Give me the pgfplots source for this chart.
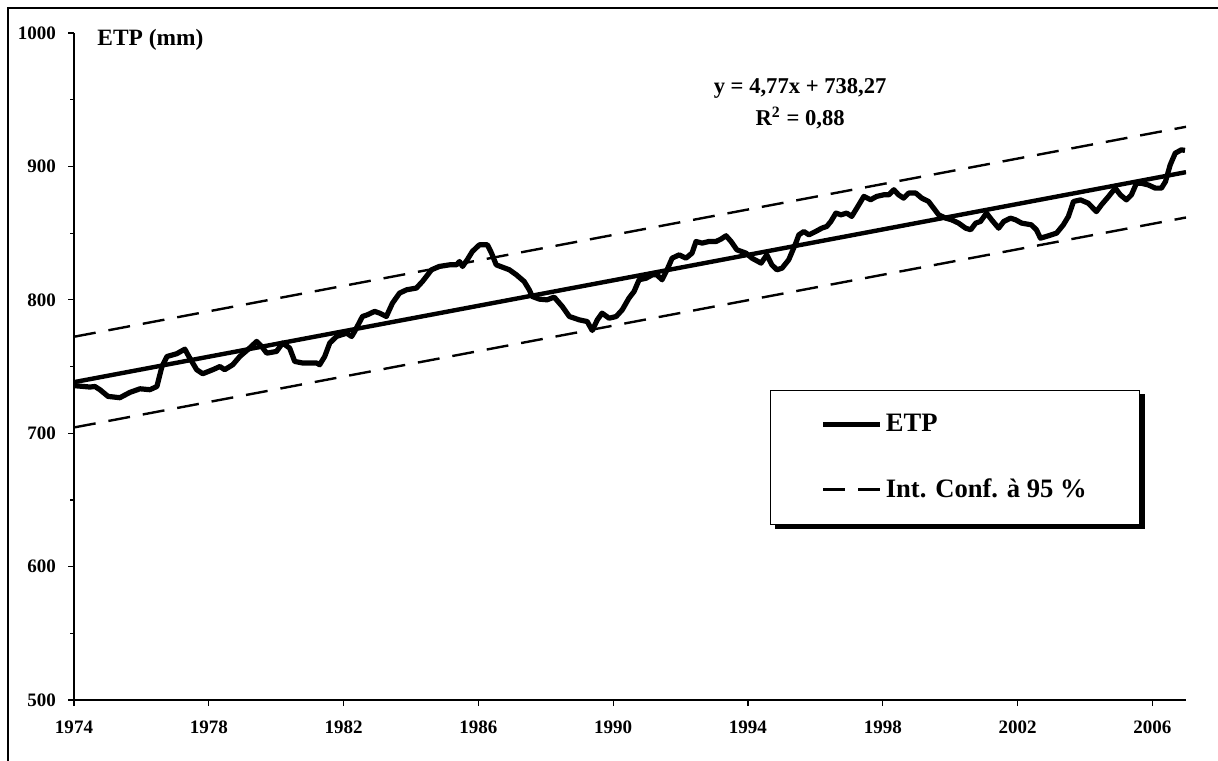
\documentclass[border=0pt]{standalone}
\usepackage{pgfplots}
\pgfplotsset{compat=1.18}
\usepackage{fontspec}
\setmainfont{Liberation Serif}
\begin{document}
\begin{tikzpicture}
\useasboundingbox (0,0) rectangle (609pt,380pt);
\draw[line width=1pt] (4pt,-20pt) -- (4pt,376pt) -- (640pt,376pt);
\begin{axis}[
 at={(37pt,30pt)}, anchor=south west,
 scale only axis, width=556pt, height=333.5pt,
 xmin=1974, xmax=2007, ymin=500, ymax=1000,
 clip mode=individual,
 axis x line=bottom, axis y line=left, axis line style={-, line width=0.6pt},
 xtick={1974,1978,...,2006}, minor x tick num=3,
 ytick={500,600,...,1000}, minor y tick num=1,
 tick align=outside, major tick length=3pt, minor tick length=2pt,
 tick style={black, line width=0.6pt},
 /pgf/number format/assume math mode=true,
 /pgf/number format/1000 sep={},
 tick label style={font=\fontsize{9.5}{10}\selectfont\bfseries},
 yticklabel style={xshift=-2.5pt},
 xticklabel style={yshift=-4pt},
 legend style={name=leg, at={(0.626,0.465)}, anchor=north west, draw=black, line width=0.5pt, fill=white,
   font=\fontsize{13.3}{15}\selectfont\bfseries, inner xsep=25pt, inner ysep=10.5pt, row sep=19pt,
   nodes={inner sep=1.5pt}},
 legend cell align=left,
 legend image code/.code={\draw[#1] (0pt,0pt) -- (28.5pt,0pt);},
]
\addplot[black, line width=2.6pt, line join=round] coordinates {
(1974.03,735.6) (1974.47,734.6) (1974.62,735) (1974.77,732.6) (1975.01,727.6) (1975.36,726.6)
(1975.66,730.6) (1975.96,733.3) (1976.25,732.6) (1976.46,735) (1976.61,750) (1976.76,757.5)
(1977.05,759.6) (1977.29,763) (1977.38,758.8) (1977.64,747.6) (1977.82,744.6) (1978.12,747.6)
(1978.33,750) (1978.47,747.6) (1978.71,751.3) (1978.92,757.5) (1979.21,763.8) (1979.42,768.8)
(1979.57,765) (1979.72,760) (1980.01,761.3) (1980.19,767.6) (1980.40,763.8) (1980.55,753.8)
(1980.79,752.6) (1981.20,752.6) (1981.29,751.3) (1981.44,757.5) (1981.59,767.6) (1981.79,772.5)
(1982.09,775) (1982.24,772.5) (1982.33,776.3) (1982.56,787.5) (1982.71,788.8) (1982.92,791.3)
(1983.07,790) (1983.27,787.5) (1983.45,797.5) (1983.66,805) (1983.87,807.5) (1984.16,808.8)
(1984.34,813.7) (1984.61,822.5) (1984.84,825) (1985.14,826.2) (1985.35,826.2) (1985.44,828.7)
(1985.53,825) (1985.67,830) (1985.82,836.2) (1986.03,841.2) (1986.27,841.2) (1986.39,835)
(1986.53,826.2) (1986.71,824.5) (1986.92,822.5) (1987.13,818.7) (1987.36,813.7) (1987.51,807.5)
(1987.60,802.5) (1987.81,800.5) (1988.04,800) (1988.25,802) (1988.49,795) (1988.70,787.5)
(1988.99,785) (1989.23,783.7) (1989.38,777) (1989.53,785) (1989.67,790) (1989.88,786.2)
(1990.09,787.5) (1990.27,792.5) (1990.47,801.3) (1990.62,806.2) (1990.77,815) (1990.98,816.2)
(1991.16,818.7) (1991.30,818.7) (1991.45,815) (1991.60,822.5) (1991.75,831.2) (1991.96,833.7)
(1992.16,831.2) (1992.34,835) (1992.46,843.7) (1992.64,842.5) (1992.84,843.7) (1993.05,843.7)
(1993.20,845.5) (1993.35,848) (1993.50,843.7) (1993.67,837.5) (1993.94,835) (1994.12,831.2)
(1994.39,827.5) (1994.56,833.7) (1994.71,826.2) (1994.86,822.5) (1995.01,823.7) (1995.21,830)
(1995.42,842.5) (1995.51,848.7) (1995.66,851.2) (1995.81,848.7) (1996.01,851.2) (1996.19,853.7)
(1996.34,855) (1996.46,858.7) (1996.61,865) (1996.76,863.7) (1996.93,865) (1997.08,862.5)
(1997.23,868.7) (1997.44,877.5) (1997.64,875) (1997.82,877.5) (1998.03,878.7) (1998.18,878.7)
(1998.33,882.5) (1998.47,878.7) (1998.62,876.2) (1998.77,880) (1998.98,880) (1999.16,876.2)
(1999.36,873.7) (1999.51,868.7) (1999.66,863.7) (1999.87,861.2) (2000.04,860) (2000.25,857.5)
(2000.46,853.7) (2000.61,852.5) (2000.76,857.5) (2000.90,858.7) (2001.08,865) (2001.23,860)
(2001.44,853.7) (2001.59,858.7) (2001.79,861.2) (2001.94,860) (2002.12,857.5) (2002.41,856.2)
(2002.56,852.5) (2002.68,846.2) (2002.92,848) (2003.16,850) (2003.36,856.2) (2003.51,862.5)
(2003.66,873.7) (2003.87,874.9) (2004.10,872.4) (2004.34,866.1) (2004.49,871.2) (2004.70,877.4)
(2004.90,883.7) (2005.05,878.7) (2005.23,874.9) (2005.38,878.7) (2005.53,887.4) (2005.67,887.4)
(2005.88,886.1) (2006.09,883.7) (2006.27,883.7) (2006.39,888.6) (2006.53,901.1) (2006.68,909.9)
(2006.86,912.4) (2006.97,912)
};
\addlegendentry{ETP}
\addplot[black, line width=2.2pt, forget plot] coordinates {(1974,738.27) (2007,895.68)};
\addplot[black, line width=1.2pt, dash pattern=on 11pt off 6.5pt] coordinates {(1974,772.3) (2007,929.7)};
\addlegendentry{Int. Conf. à 95 \%}
\addplot[black, line width=1.2pt, dash pattern=on 11pt off 6.5pt, forget plot] coordinates {(1974,704.3) (2007,861.7)};
\node[anchor=base west, inner sep=0pt, font=\fontsize{11.7}{13}\selectfont\bfseries] at (rel axis cs:0.0207,0.982) {ETP (mm)};
\node[align=center, font=\fontsize{11.3}{16}\selectfont\bfseries] at (rel axis cs:0.653,0.8936) {y = 4,77x + 738,27\\R\textsuperscript{2} = 0,88};
\end{axis}
\fill[black] ([shift={(2.2pt,-2.2pt)}]leg.south west) rectangle (leg.south east);
\fill[black] ([shift={(0pt,-2.2pt)}]leg.north east) rectangle ([shift={(2.2pt,-2.2pt)}]leg.south east);
\end{tikzpicture}
\end{document}
